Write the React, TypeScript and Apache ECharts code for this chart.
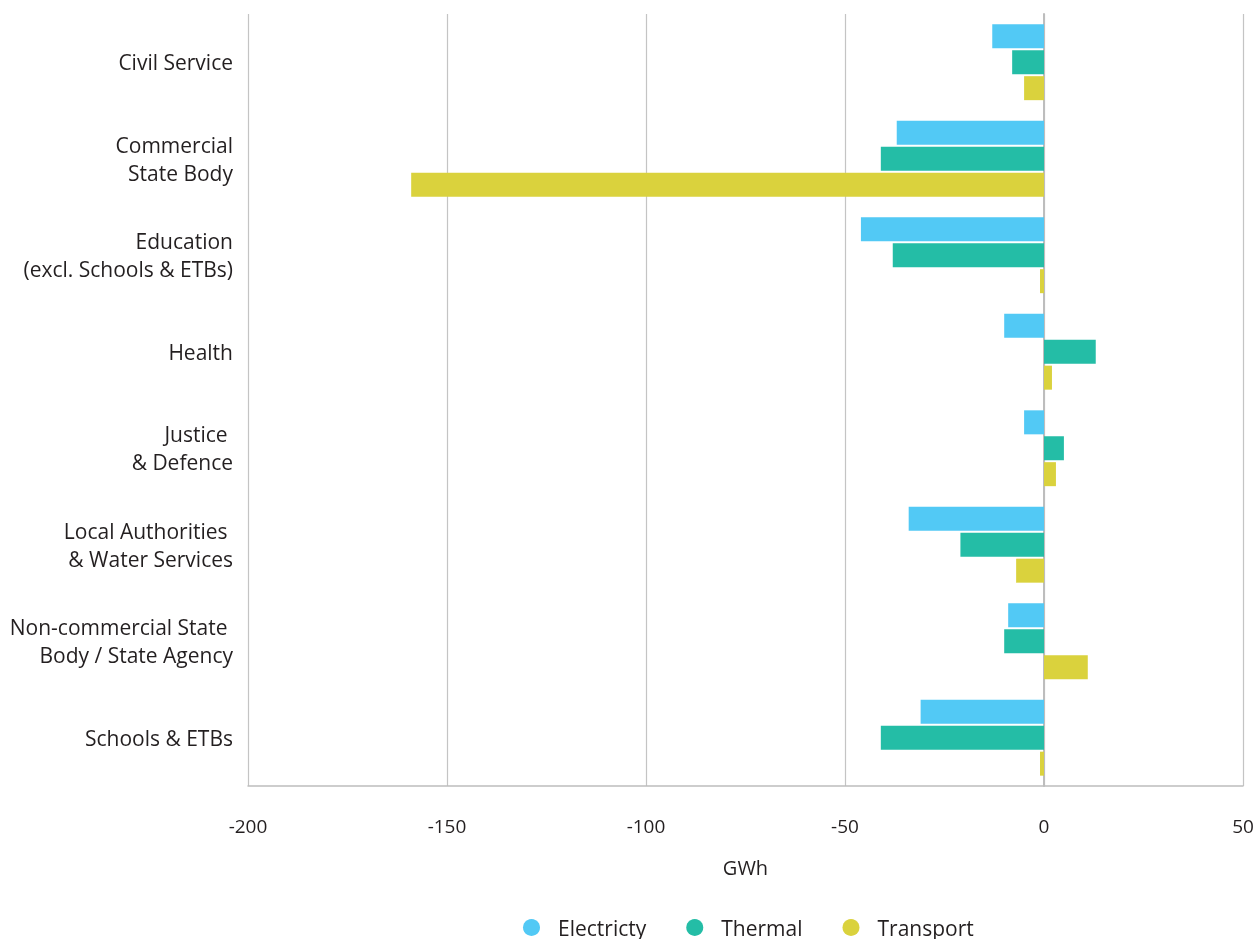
import React, { useEffect, useRef } from "react";
import * as echarts from "echarts";

// Sectors on the vertical axis, top to bottom
const categories: string[] = [
  "Civil Service",
  "Commercial\nState Body",
  "Education\n(excl. Schools & ETBs)",
  "Health",
  "Justice \n& Defence",
  "Local Authorities \n& Water Services",
  "Non-commercial State \nBody / State Agency",
  "Schools & ETBs",
];

// Change in energy use by sector (GWh)
const electricity: number[] = [-13, -37, -46, -10, -5, -34, -9, -31];
const thermal: number[] = [-8, -41, -38, 13, 5, -21, -10, -41];
const transport: number[] = [-5, -159, -1, 2, 3, -7, 11, -1];

const seriesNames = ["Electricty", "Thermal", "Transport"];
const colors = ["#52C9F5", "#24BDA6", "#DAD23D"];

const FONT = "'Open Sans', 'Noto Sans', sans-serif";

export default function App() {
  const ref = useRef<HTMLDivElement>(null);

  useEffect(() => {
    if (!ref.current) return;
    const chart = echarts.init(ref.current, undefined, { renderer: "svg" });
    const values = [electricity, thermal, transport];
    chart.setOption({
      animation: false,
      color: colors,
      grid: {
        left: 248,
        right: 15,
        top: 14,
        bottom: 153,
        containLabel: false,
        outerBoundsMode: "none",
      },
      legend: {
        top: 912,
        left: 518,
        icon: "circle",
        itemWidth: 17,
        itemHeight: 17,
        itemGap: 40,
        textStyle: { fontFamily: FONT, fontSize: 21, color: "#231f20", padding: [0, 0, 0, 13] },
        data: seriesNames,
      },
      xAxis: {
        type: "value",
        min: -200,
        max: 50,
        interval: 50,
        name: "GWh",
        nameLocation: "middle",
        nameGap: 71,
        nameTextStyle: { fontFamily: FONT, fontSize: 20, color: "#231f20" },
        axisLine: { show: true, lineStyle: { color: "#bdbdbd", width: 1.5 } },
        axisTick: { show: false },
        axisLabel: { fontFamily: FONT, fontSize: 19, color: "#231f20", margin: 30 },
        splitLine: { show: true, lineStyle: { color: "#c4c4c4", width: 1.2 } },
      },
      yAxis: {
        type: "category",
        inverse: true,
        data: categories,
        axisLine: { show: true, onZero: true, lineStyle: { color: "#bdbdbd", width: 2 } },
        axisTick: { show: false },
        axisLabel: {
          fontFamily: FONT,
          fontSize: 21,
          color: "#231f20",
          lineHeight: 28,
          align: "right",
          margin: 15,
        },
      },
      series: seriesNames.map((name, i) => ({
        name,
        type: "bar",
        data: values[i],
        barWidth: 24,
        barGap: "8%",
        barCategoryGap: "21%",
        itemStyle: { color: colors[i] },
      })),
    });
    return () => chart.dispose();
  }, []);

  // The chart covers the whole window, independent of the body's margin
  return (
    <div
      ref={ref}
      style={{ position: "fixed", left: 0, top: 0, width: 1258, height: 939 }}
    />
  );
}
